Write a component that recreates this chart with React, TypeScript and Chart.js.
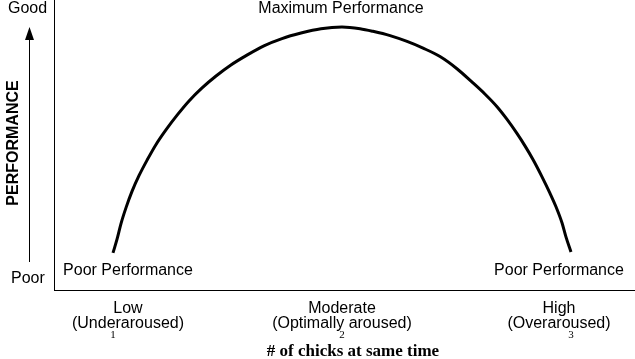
import React, { useEffect, useRef } from "react";
import { Chart, registerables } from "chart.js";

Chart.register(...registerables);

// Curve: x = arousal level (1 = low, 2 = moderate, 3 = high), y = performance (0..100)
const curveX = [
  1.0, 1.018, 1.035, 1.057, 1.083, 1.114, 1.149, 1.188, 1.232, 1.28, 1.332, 1.389, 1.45, 1.515, 1.585, 1.659,
  1.738, 1.821, 1.908, 2.0, 2.079, 2.135, 2.21, 2.284, 2.354, 2.428, 2.502, 2.572, 2.625, 2.677, 2.72, 2.764,
  2.799, 2.834, 2.873, 2.908, 2.935, 2.961, 2.978, 3.0,
];
const curveY = [
  12.8, 17.6, 22.9, 28.4, 34.0, 39.5, 44.8, 50.2, 55.3, 60.3, 65.2, 69.7, 73.8, 77.6, 81.0, 84.2,
  86.7, 88.6, 90.1, 90.7, 90.1, 89.2, 87.7, 85.7, 83.4, 80.5, 76.3, 71.4, 67.5, 63.2, 58.9, 54.0,
  49.7, 45.0, 39.1, 33.4, 28.6, 23.1, 18.3, 13.1,
];

const tickValues = [1, 2, 3];
const tickDigits = ["1", "2", "3"];
const tickLine1 = ["Low", "Moderate", "High"];
const tickLine2 = ["(Underaroused)", "(Optimally aroused)", "(Overaroused)"];
const xTitle = "# of chicks at same time";
const yTitle = "PERFORMANCE";
const yTop = "Good";
const yBottom = "Poor";
const peakLabel = "Maximum Performance";
const endLabel = "Poor Performance";

const SANS = '"Liberation Sans", Arial, sans-serif';
const SERIF = '"Liberation Serif", "Times New Roman", serif';

const textPlugin = {
  id: "yerkesText",
  afterDraw(chart: any) {
    const ctx = chart.ctx as CanvasRenderingContext2D;
    const xs = chart.scales.x;
    const ca = chart.chartArea;
    const base = ca.bottom;
    const labelShift = [15, 0, -12];
    ctx.save();
    ctx.fillStyle = "#000";
    ctx.textBaseline = "alphabetic";

    // Top / bottom y-axis words
    ctx.font = `16px ${SANS}`;
    ctx.textAlign = "left";
    ctx.fillText(yTop, ca.left - 46, ca.top + 13);
    ctx.fillText(yBottom, ca.left - 43, base - 7);

    // Peak label
    ctx.textAlign = "center";
    ctx.fillText(peakLabel, xs.getPixelForValue(2) - 1, ca.top + 13);

    // End labels
    ctx.fillText(endLabel, xs.getPixelForValue(1) + labelShift[0], base - 15);
    ctx.fillText(endLabel, xs.getPixelForValue(3) + labelShift[2], base - 15);

    // Category labels
    tickValues.forEach((v, i) => {
      const px = xs.getPixelForValue(v);
      ctx.font = `16px ${SANS}`;
      ctx.textAlign = "center";
      ctx.fillText(tickLine1[i], px + labelShift[i], base + 22.5);
      ctx.fillText(tickLine2[i], px + labelShift[i], base + 38);
      ctx.font = `11px ${SERIF}`;
      ctx.fillText(tickDigits[i], px, base + 48);
    });

    // X title
    ctx.font = `bold 17px ${SERIF}`;
    ctx.textAlign = "center";
    ctx.fillText(xTitle, xs.getPixelForValue(2) + 11, base + 66);

    // Y title (rotated)
    ctx.save();
    ctx.translate(14, 143);
    ctx.rotate(-Math.PI / 2);
    ctx.font = `bold 16px ${SANS}`;
    ctx.textAlign = "center";
    ctx.textBaseline = "middle";
    ctx.fillText(yTitle, 0, 0);
    ctx.restore();

    // Arrow
    ctx.strokeStyle = "#000";
    ctx.lineWidth = 1;
    ctx.beginPath();
    ctx.moveTo(29.5, base - 28);
    ctx.lineTo(29.5, 38);
    ctx.stroke();
    ctx.beginPath();
    ctx.moveTo(29.5, 27);
    ctx.lineTo(25, 40);
    ctx.lineTo(34, 40);
    ctx.closePath();
    ctx.fill();

    ctx.restore();
  },
};

export default function App() {
  const ref = useRef<HTMLCanvasElement | null>(null);
  useEffect(() => {
    if (!ref.current) return;
    const chart = new Chart(ref.current, {
      type: "line",
      data: {
        datasets: [
          {
            data: curveX.map((x, i) => ({ x, y: curveY[i] })),
            borderColor: "#000",
            borderWidth: 3,
            pointRadius: 0,
            cubicInterpolationMode: "monotone",
            borderCapStyle: "butt",
            borderJoinStyle: "round",
            fill: false,
          },
        ],
      },
      options: {
        animation: false,
        responsive: false,
        events: [],
        layout: { padding: { left: 54, right: 0, top: 0, bottom: 69 } },
        plugins: { legend: { display: false }, tooltip: { enabled: false } },
        scales: {
          x: {
            type: "linear",
            min: 0.7424,
            max: 3.2795,
            ticks: { display: false, padding: 0 },
            grid: { display: false, drawTicks: false, tickLength: 0 },
            border: { display: true, color: "#000", width: 1 },
          },
          y: {
            type: "linear",
            min: 0,
            max: 100,
            ticks: { display: false, padding: 0 },
            grid: { display: false, drawTicks: false, tickLength: 0 },
            border: { display: true, color: "#000", width: 1 },
          },
        },
      },
      plugins: [textPlugin],
    });
    return () => chart.destroy();
  }, []);
  return (
    <div style={{ position: "fixed", left: 0, top: 0, width: 635, height: 359, background: "#fff" }}>
      <canvas ref={ref} width={635} height={359} style={{ display: "block" }} />
    </div>
  );
}
